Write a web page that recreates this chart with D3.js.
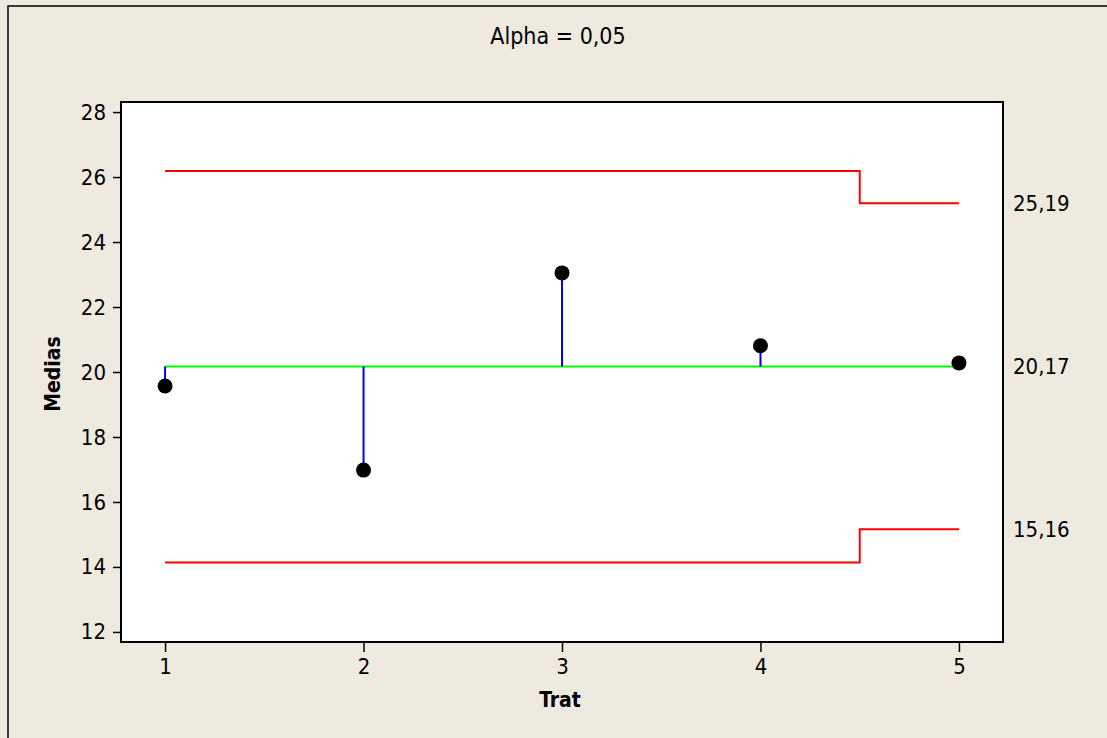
<!doctype html>
<html>
<head>
<meta charset="utf-8">
<script src="https://d3js.org/d3.v7.min.js"></script>
<style>
  body{margin:0;background:#EEEAE0;}
  text{font-family:"DejaVu Sans Condensed","DejaVu Sans",sans-serif;fill:#000;}
</style>
</head>
<body>
<script>
// data
var trat = [1, 2, 3, 4, 5];
var medias = [19.57, 16.98, 23.05, 20.81, 20.28];
var centerLine = 20.17;
var limitX = [1, 4.5, 5];
var upperLimit = [26.19, 25.19, 25.19];
var lowerLimit = [14.14, 15.16, 15.16];
var rightLabels = ['25,19', '20,17', '15,16'];
var rightValues = [25.19, 20.17, 15.16];
var yTicks = [12, 14, 16, 18, 20, 22, 24, 26, 28];
var xTicks = [1, 2, 3, 4, 5];
var title = 'Alpha = 0,05';

var W = 1107, H = 738;
var pLeft = 121, pTop = 102, pRight = 1003, pBottom = 642;

var svg = d3.select('body').append('svg').attr('width', W).attr('height', H);

// outer frame
svg.append('rect').attr('x', 8).attr('y', 6).attr('width', W + 10).attr('height', H + 10)
  .attr('fill', '#EEEAE0').attr('stroke', '#000').attr('stroke-width', 1.5);

var x = d3.scaleLinear().domain([0.778, 5.222]).range([pLeft, pRight]);
var y = d3.scaleLinear().domain([11.69, 28.31]).range([pBottom, pTop]);

// plot area
svg.append('rect').attr('x', pLeft).attr('y', pTop)
  .attr('width', pRight - pLeft).attr('height', pBottom - pTop)
  .attr('fill', '#fff');

// axes
var yAxis = d3.axisLeft(y).tickValues(yTicks).tickSize(8).tickPadding(7).tickFormat(d3.format('d'));
var xAxis = d3.axisBottom(x).tickValues(xTicks).tickSize(10).tickPadding(6).tickFormat(d3.format('d'));

var gy = svg.append('g').attr('transform', 'translate(' + pLeft + ',0)').call(yAxis);
var gx = svg.append('g').attr('transform', 'translate(0,' + pBottom + ')').call(xAxis);
[gy, gx].forEach(function(g){
  g.select('.domain').remove();
  g.selectAll('line').attr('stroke', '#000').attr('stroke-width', 1.5);
  g.selectAll('text').attr('font-size', 22).attr('font-family', '"DejaVu Sans Condensed","DejaVu Sans",sans-serif').attr('fill', '#000');
});

// limit lines
var stepLine = d3.line()
  .x(function(d){ return x(d[0]); })
  .y(function(d){ return y(d[1]); })
  .curve(d3.curveStepAfter);

[upperLimit, lowerLimit].forEach(function(lim){
  svg.append('path')
    .attr('d', stepLine(limitX.map(function(v, i){ return [v, lim[i]]; })))
    .attr('fill', 'none').attr('stroke', '#FF0000').attr('stroke-width', 2);
});

// center line
svg.append('line')
  .attr('x1', x(trat[0])).attr('x2', x(trat[trat.length - 1]))
  .attr('y1', y(centerLine)).attr('y2', y(centerLine))
  .attr('stroke', '#00FF00').attr('stroke-width', 2);

// stems
svg.selectAll('line.stem').data(medias).enter().append('line')
  .attr('class', 'stem')
  .attr('x1', function(d, i){ return x(trat[i]); })
  .attr('x2', function(d, i){ return x(trat[i]); })
  .attr('y1', y(centerLine))
  .attr('y2', function(d){ return y(d); })
  .attr('stroke', '#0000FF').attr('stroke-width', 2);

// points
svg.selectAll('circle').data(medias).enter().append('circle')
  .attr('cx', function(d, i){ return x(trat[i]); })
  .attr('cy', function(d){ return y(d); })
  .attr('r', 7.5).attr('fill', '#000');

// plot border
svg.append('rect').attr('x', pLeft).attr('y', pTop)
  .attr('width', pRight - pLeft).attr('height', pBottom - pTop)
  .attr('fill', 'none').attr('stroke', '#000').attr('stroke-width', 2);

// right side labels
svg.selectAll('text.rl').data(rightValues).enter().append('text')
  .attr('class', 'rl')
  .attr('x', pRight + 10).attr('y', function(d){ return y(d); })
  .attr('dy', '0.35em').attr('font-size', 22)
  .text(function(d, i){ return rightLabels[i]; });

// title
svg.append('text').attr('x', 558).attr('y', 44)
  .attr('text-anchor', 'middle').attr('font-size', 23).text(title);

// axis titles
svg.append('text').attr('x', 560).attr('y', 707)
  .attr('text-anchor', 'middle').attr('font-size', 21).attr('font-weight', 'bold').text('Trat');
svg.append('text').attr('transform', 'translate(60,374) rotate(-90)')
  .attr('text-anchor', 'middle').attr('font-size', 21).attr('font-weight', 'bold').text('Medias');
</script>
</body>
</html>
